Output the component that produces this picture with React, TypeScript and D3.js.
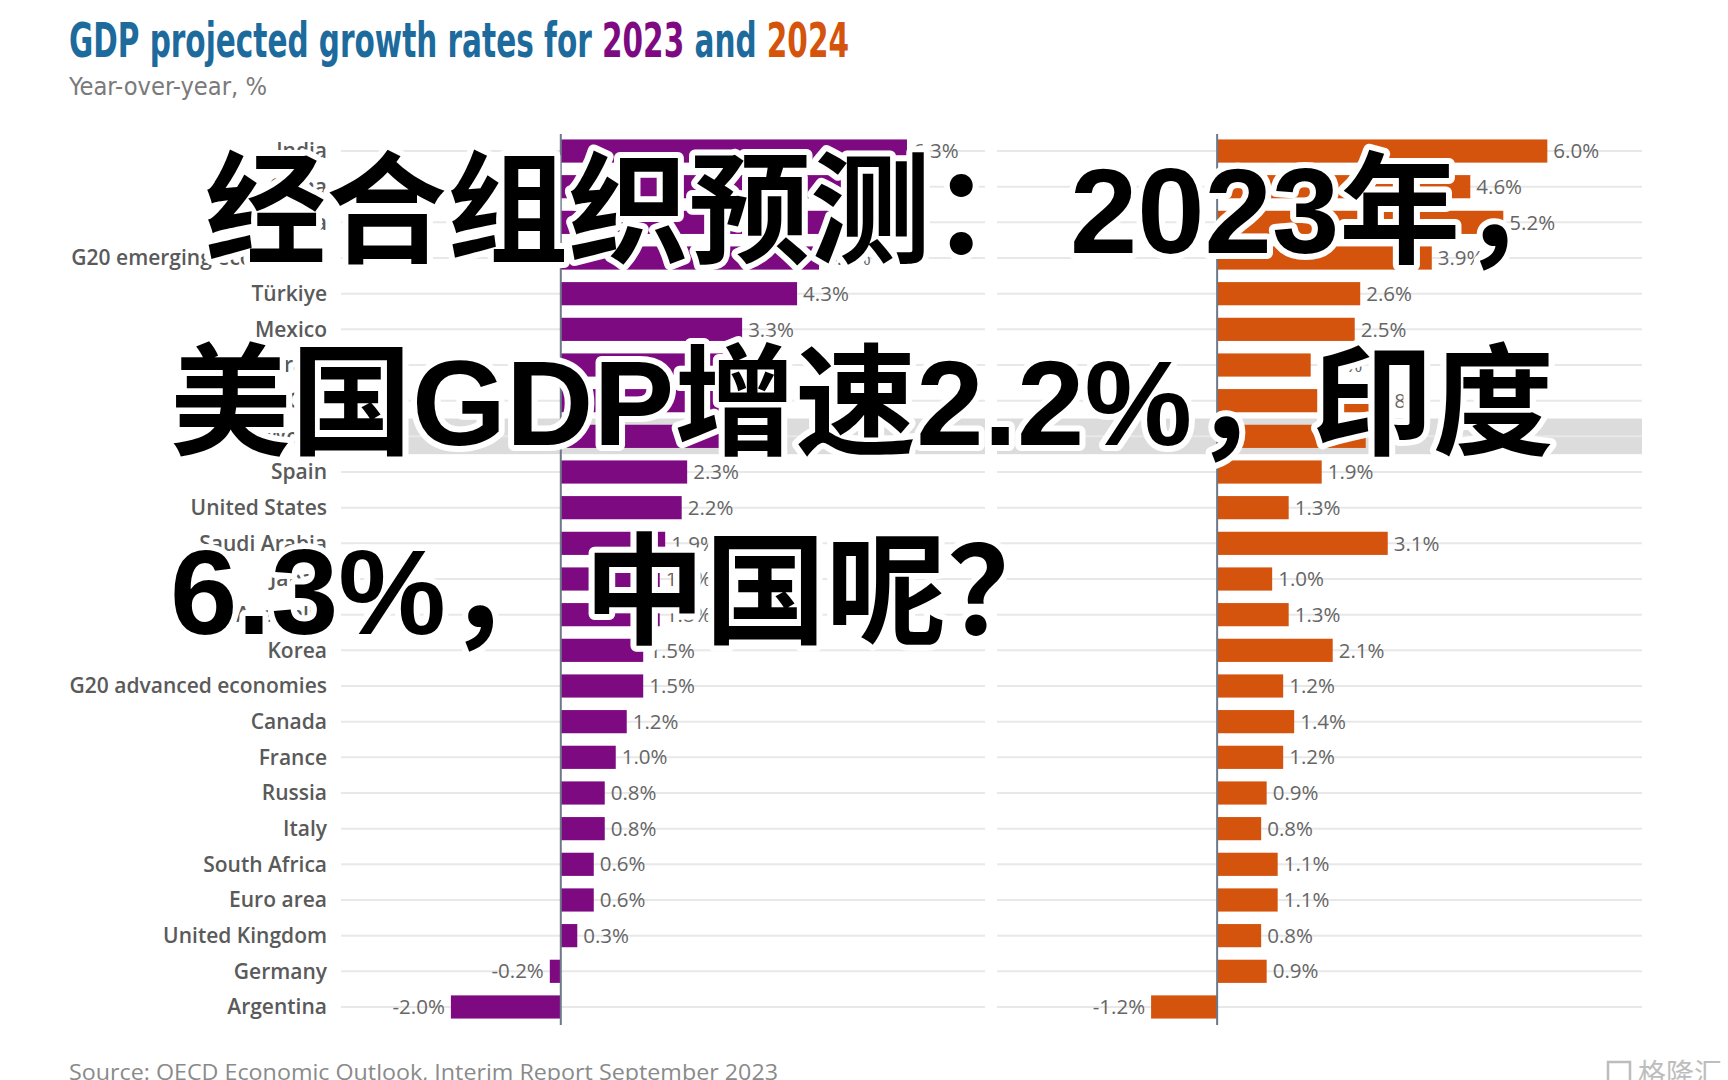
import React from "react";
import * as d3 from "d3";

const categories = [
  "India", "China", "Indonesia", "G20 emerging economies", "Türkiye", "Mexico", "Brazil", "G20", "World",
  "Spain", "United States", "Saudi Arabia", "Japan", "Australia", "Korea", "G20 advanced economies",
  "Canada", "France", "Russia", "Italy", "South Africa", "Euro area", "United Kingdom", "Germany", "Argentina",
];
const values2023 = [6.3, 5.1, 4.9, 4.7, 4.3, 3.3, 3.2, 3.1, 3.0, 2.3, 2.2, 1.9, 1.8, 1.8, 1.5, 1.5, 1.2, 1.0, 0.8, 0.8, 0.6, 0.6, 0.3, -0.2, -2.0];
const values2024 = [6.0, 4.6, 5.2, 3.9, 2.6, 2.5, 1.7, 2.8, 2.7, 1.9, 1.3, 3.1, 1.0, 1.3, 2.1, 1.2, 1.4, 1.2, 0.9, 0.8, 1.1, 1.1, 0.8, 0.9, -1.2];
const highlighted = ["World"];
const overlayLines = ["经合组织预测：", "2023年，", "美国GDP增速2.2%，", "印度", "6.3%，", "中国呢？"];

const W = 1728, H = 1080;
const PURPLE = "#7e0a82";
const ORANGE = "#d4530d";
const BLUE = "#1c6b9c";

export default function App() {
  const y = d3.scaleBand<string>().domain(categories).range([133.2, 1024.8]).paddingInner(0.35).paddingOuter(0.175);
  const xL = d3.scaleLinear().domain([-4, 7.72]).range([341, 985]);
  const xR = d3.scaleLinear().domain([-4, 7.72]).range([997, 1642]);
  const fmt = (v: number) => d3.format(".1f")(v).replace("\u2212", "-") + "%";
  const labelFont = "'Open Sans', 'Noto Sans', sans-serif";

  const panel = (vals: number[], x: d3.ScaleLinear<number, number>, color: string, key: string) => {
    const [r0, r1] = x.range();
    const x0 = x(0);
    return (
      <g key={key}>
        {categories.map((c) =>
          highlighted.includes(c) ? (
            <rect key={"h" + c} x={r0} y={(y(c) as number) - y.step() * 0.175} width={r1 - r0} height={y.step()} fill="#dcdcdc" />
          ) : null
        )}
        {categories.map((c) => {
          const cy = (y(c) as number) + y.bandwidth() / 2;
          return <line key={"g" + c} x1={r0} x2={r1} y1={cy} y2={cy} stroke="#e8e8e8" strokeWidth={2} />;
        })}
        {categories.map((c, i) => {
          const v = vals[i];
          const xa = Math.min(x(v), x0);
          const w = Math.abs(x(v) - x0);
          const cy = (y(c) as number) + y.bandwidth() / 2;
          return (
            <g key={"b" + c}>
              <rect x={xa} y={y(c)} width={w} height={y.bandwidth()} fill={color} />
              <text
                x={v >= 0 ? x(v) + 6 : x(v) - 6}
                y={cy}
                dy="0.35em"
                textAnchor={v >= 0 ? "start" : "end"}
                fontFamily={labelFont}
                fontSize={20.5}
                fill="#666"
              >
                {fmt(v)}
              </text>
            </g>
          );
        })}
        <line x1={x0} x2={x0} y1={134} y2={1025} stroke="#6d7888" strokeWidth={2} />
      </g>
    );
  };

  const overlayFont = "'Liberation Sans', 'Noto Sans CJK SC', sans-serif";
  const ovStyle: React.CSSProperties = { paintOrder: "stroke" };

  return (
    <svg width={W} height={H} style={{ position: "fixed", left: 0, top: 0, background: "#fff" }}>
      <rect x={0} y={0} width={W} height={H} fill="#fff" />
      <text
        x={69}
        y={57}
        fontFamily="'Liberation Sans Narrow', 'DejaVu Sans Condensed', sans-serif"
        fontWeight={700}
        fontSize={48}
        fill={BLUE}
        textLength={780}
        lengthAdjust="spacingAndGlyphs"
      >
        GDP projected growth rates for <tspan fill={PURPLE}>2023</tspan> and <tspan fill={ORANGE}>2024</tspan>
      </text>
      <text
        x={69}
        y={95}
        fontFamily="'Liberation Sans Narrow', 'DejaVu Sans Condensed', sans-serif"
        fontSize={24}
        fill="#7a7a7a"
        textLength={198}
        lengthAdjust="spacingAndGlyphs"
      >
        Year-over-year, %
      </text>

      {categories.map((c) => (
        <text
          key={"l" + c}
          x={327}
          y={(y(c) as number) + y.bandwidth() / 2}
          dy="0.35em"
          textAnchor="end"
          fontFamily={labelFont}
          fontWeight={600}
          fontSize={21}
          fill="#5a5a5a"
        >
          {c}
        </text>
      ))}

      {panel(values2023, xL, PURPLE, "p23")}
      {panel(values2024, xR, ORANGE, "p24")}

      <text
        x={69}
        y={1080}
        fontFamily={labelFont}
        fontSize={22}
        fill="#8a8a8a"
        textLength={709}
        lengthAdjust="spacingAndGlyphs"
      >
        Source: OECD Economic Outlook, Interim Report September 2023
      </text>

      <g opacity={0.55}>
        <rect x={1608} y={1062} width={22} height={22} fill="none" stroke="#888" strokeWidth={2.5} />
        <text x={1638} y={1084} fontFamily="'Noto Sans CJK SC', sans-serif" fontSize={28} fill="#888">
          格隆汇
        </text>
      </g>

      <g
        fontFamily={overlayFont}
        fontWeight={700}
        fontSize={121}
        fill="#000"
        stroke="#fff"
        strokeWidth={12}
        strokeLinejoin="round"
        style={ovStyle}
      >
        <text x={205} y={253}>{overlayLines[0]}</text>
        <text x={1070} y={253}>{overlayLines[1]}</text>
        <text x={170} y={445}>{overlayLines[2]}</text>
        <text x={1312} y={445}>{overlayLines[3]}</text>
        <text x={170} y={634}>{overlayLines[4]}</text>
        <text x={584} y={634}>{overlayLines[5]}</text>
      </g>
    </svg>
  );
}
